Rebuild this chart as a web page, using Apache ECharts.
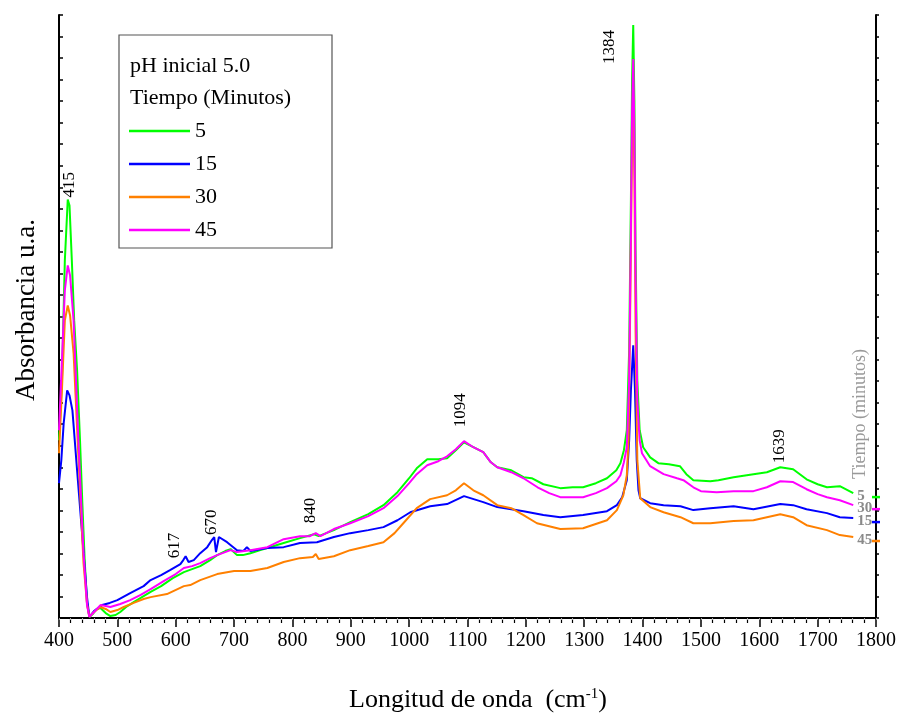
<!DOCTYPE html>
<html>
<head>
<meta charset="utf-8">
<script src="https://cdn.jsdelivr.net/npm/echarts@6/dist/echarts.min.js"></script>
<style>
  html, body { margin: 0; padding: 0; background: #fff; }
  #chart { width: 900px; height: 719px; }
</style>
</head>
<body>
<div id="chart"></div>
<script>
// FTIR spectra, initial pH 5.0, four contact times (arbitrary absorbance units)
const seriesNames = ['5', '15', '30', '45'];
const seriesColors = ['#00ff00', '#0000ff', '#ff8000', '#ff00ff'];
const endTags = ['5', '15', '45', '30'];

const green5 = [[400,8.25],[405,11.03],[410,16.6],[415,19.43],[418,19.15],[422,16.6],[426,13.82],[431,11.5],[436,8.25],[440,5.33],[444,2.69],[448,0.7],[452,0.05],[458,0.19],[465,0.42],[471,0.46],[480,0.23],[488,0.09],[497,0.14],[505,0.28],[515,0.51],[528,0.74],[540,0.93],[557,1.21],[575,1.48],[595,1.85],[614,2.13],[628,2.27],[642,2.41],[659,2.69],[671,2.92],[685,3.11],[694,3.2],[705,2.92],[715,2.92],[728,3.01],[745,3.15],[757,3.25],[785,3.48],[813,3.71],[837,3.89],[845,3.8],[871,4.08],[899,4.45],[930,4.82],[956,5.24],[980,5.84],[1000,6.49],[1013,6.95],[1031,7.37],[1050,7.37],[1065,7.42],[1080,7.79],[1094,8.16],[1110,7.93],[1127,7.7],[1140,7.23],[1151,7.0],[1175,6.86],[1196,6.54],[1210,6.49],[1230,6.21],[1259,6.03],[1280,6.07],[1298,6.07],[1320,6.26],[1339,6.49],[1355,6.86],[1362,7.19],[1368,7.79],[1373,8.72],[1377,12.42],[1380,19.38],[1382,24.94],[1384,27.54],[1386,24.01],[1388,17.06],[1391,11.03],[1395,8.72],[1401,7.93],[1413,7.46],[1427,7.19],[1445,7.14],[1464,7.05],[1475,6.68],[1487,6.4],[1516,6.35],[1530,6.4],[1556,6.54],[1590,6.68],[1613,6.77],[1636,7.0],[1658,6.91],[1681,6.44],[1700,6.21],[1716,6.07],[1738,6.12],[1761,5.8]];

const blue15 = [[400,6.26],[404,7.33],[408,9.04],[414,10.57],[418,10.34],[423,9.64],[431,6.86],[440,3.76],[448,0.97],[452,0.05],[460,0.32],[474,0.6],[487,0.7],[500,0.83],[522,1.16],[545,1.48],[557,1.76],[575,1.99],[591,2.23],[608,2.5],[613,2.69],[617,2.87],[622,2.6],[631,2.69],[642,3.01],[654,3.29],[662,3.62],[666,3.76],[669,3.06],[674,3.76],[688,3.52],[705,3.15],[716,3.11],[722,3.29],[728,3.11],[757,3.25],[785,3.29],[813,3.48],[842,3.52],[871,3.76],[899,3.94],[930,4.08],[956,4.22],[980,4.54],[1002,4.91],[1036,5.19],[1065,5.29],[1094,5.66],[1127,5.38],[1151,5.15],[1175,5.05],[1196,4.96],[1230,4.78],[1259,4.68],[1298,4.78],[1339,4.96],[1356,5.24],[1365,5.61],[1373,6.4],[1377,8.25],[1380,10.57],[1384,12.66],[1387,10.57],[1390,7.33],[1393,5.93],[1396,5.56],[1413,5.33],[1436,5.24],[1465,5.19],[1487,5.01],[1516,5.1],[1556,5.19],[1590,5.05],[1636,5.29],[1658,5.24],[1681,5.05],[1716,4.87],[1738,4.68],[1761,4.64]];

const orange30 = [[400,7.65],[405,10.57],[410,13.82],[415,14.51],[419,14.05],[425,12.29],[433,7.65],[442,2.55],[448,0.65],[452,0.05],[460,0.28],[471,0.51],[480,0.42],[488,0.28],[500,0.37],[511,0.51],[528,0.7],[545,0.88],[557,0.97],[585,1.11],[614,1.48],[625,1.53],[642,1.76],[671,2.04],[700,2.18],[728,2.18],[757,2.32],[785,2.6],[813,2.78],[835,2.83],[840,2.97],[845,2.74],[871,2.87],[899,3.15],[930,3.34],[956,3.52],[975,3.94],[990,4.4],[1013,5.1],[1036,5.52],[1065,5.7],[1080,5.93],[1094,6.26],[1110,5.93],[1127,5.7],[1151,5.24],[1175,5.1],[1196,4.78],[1219,4.4],[1259,4.13],[1298,4.17],[1339,4.54],[1356,5.01],[1367,5.7],[1373,6.63],[1376,8.25],[1379,14.74],[1382,22.16],[1384,24.25],[1386,20.31],[1388,13.35],[1391,7.33],[1396,5.56],[1413,5.15],[1436,4.91],[1465,4.68],[1487,4.4],[1516,4.4],[1556,4.5],[1590,4.54],[1613,4.68],[1636,4.82],[1658,4.68],[1681,4.31],[1716,4.08],[1738,3.85],[1761,3.76]];

const magenta45 = [[400,8.72],[405,11.96],[410,15.21],[415,16.37],[419,15.9],[425,13.82],[433,8.39],[442,3.01],[448,0.6],[452,0.05],[460,0.28],[471,0.6],[480,0.56],[488,0.51],[505,0.65],[522,0.83],[540,1.07],[557,1.34],[580,1.72],[600,2.04],[614,2.32],[628,2.41],[642,2.55],[659,2.78],[671,2.92],[694,3.15],[705,3.06],[728,3.15],[757,3.29],[785,3.66],[813,3.8],[830,3.8],[840,3.94],[848,3.8],[871,4.13],[899,4.4],[930,4.73],[956,5.1],[980,5.66],[1000,6.26],[1013,6.68],[1031,7.09],[1050,7.28],[1065,7.51],[1080,7.84],[1094,8.21],[1110,7.93],[1127,7.7],[1140,7.23],[1151,7.0],[1175,6.77],[1196,6.49],[1220,6.07],[1240,5.8],[1259,5.61],[1280,5.61],[1298,5.61],[1320,5.8],[1339,6.03],[1355,6.35],[1362,6.63],[1368,7.23],[1373,7.93],[1377,11.03],[1380,17.99],[1382,23.55],[1384,25.96],[1386,22.62],[1388,15.67],[1391,10.11],[1395,8.25],[1399,7.65],[1413,7.05],[1436,6.68],[1459,6.49],[1470,6.4],[1487,6.07],[1500,5.89],[1527,5.84],[1556,5.89],[1590,5.89],[1613,6.07],[1636,6.35],[1658,6.31],[1681,5.98],[1700,5.75],[1716,5.61],[1738,5.47],[1761,5.24]];

const seriesData = [green5, blue15, orange30, magenta45];

// band assignments marked over the spectra
const peakTags = [415, 617, 670, 840, 1094, 1384, 1639];
const peakNudge = {415: [2, -2], 617: [-11, 2], 670: [-5, -2], 840: [-5, -10], 1094: [-3, -14], 1384: [-24, 39], 1639: [-3, -4]};

const xMin = 400, xMax = 1800, xStep = 100;
const yMin = 0, yMax = 28, yStep = 1;

const serif = '"Liberation Serif", "Times New Roman", serif';
const chart = echarts.init(document.getElementById('chart'), null, { renderer: 'canvas' });

const series = seriesNames.map((name, i) => {
  const data = seriesData[i];
  const last = data[data.length - 1];
  return {
    name: name,
    type: 'line',
    data: data,
    showSymbol: false,
    symbol: 'none',
    smooth: false,
    color: seriesColors[i],
    lineStyle: { width: 2, color: seriesColors[i] },
    z: 2 + i,
    endLabel: {
      show: true,
      formatter: endTags[i],
      color: '#8a8a8a',
      fontWeight: 'bold',
      fontSize: 15,
      fontFamily: serif,
      distance: 4,
      offset: [0, 3]
    },
    markPoint: {
      silent: true,
      symbol: 'rect',
      symbolSize: [8, 2.5],
      symbolOffset: [0, 4],
      label: { show: false },
      itemStyle: { color: seriesColors[i] },
      data: [{ coord: [xMax, last[1]] }]
    }
  };
});

const option = {
  animation: false,
  backgroundColor: '#fff',
  grid: { left: 59, right: 24, top: 15, bottom: 101, containLabel: false },
  legend: {
    data: seriesNames,
    orient: 'vertical',
    left: 129,
    top: 120,
    padding: 0,
    icon: 'rect',
    itemWidth: 61,
    itemHeight: 2.5,
    itemGap: 11,
    selectedMode: false,
    textStyle: { fontFamily: serif, fontSize: 22, color: '#000' }
  },
  xAxis: [
    {
      type: 'value', min: xMin, max: xMax, interval: xStep, position: 'bottom',
      axisLine: { show: true, lineStyle: { color: '#000', width: 2 } },
      axisTick: { show: true, inside: false, length: 9, lineStyle: { color: '#000', width: 1.5 } },
      minorTick: { show: true, splitNumber: 5, length: 5, lineStyle: { color: '#000', width: 1.2 } },
      axisLabel: { fontFamily: serif, fontSize: 20, color: '#000', margin: 13, formatter: v => String(v) },
      splitLine: { show: false }
    },
    {
      type: 'value', min: xMin, max: xMax, interval: xStep, position: 'top',
      axisLine: { show: true, lineStyle: { color: '#000', width: 2 } },
      axisTick: { show: true, inside: true, length: 2, lineStyle: { color: '#999', width: 1 } },
      minorTick: { show: true, splitNumber: 5, length: 2, lineStyle: { color: '#aaa', width: 1 } },
      axisLabel: { show: false },
      splitLine: { show: false }
    }
  ],
  yAxis: [
    {
      type: 'value', min: yMin, max: yMax, interval: yStep, position: 'left',
      axisLine: { show: true, lineStyle: { color: '#000', width: 2 } },
      axisTick: { show: true, inside: true, length: 4, lineStyle: { color: '#000', width: 1.5 } },
      axisLabel: { show: false },
      splitLine: { show: false }
    },
    {
      type: 'value', min: yMin, max: yMax, interval: yStep, position: 'right',
      axisLine: { show: true, lineStyle: { color: '#000', width: 2 } },
      axisTick: { show: true, inside: false, length: 3, lineStyle: { color: '#000', width: 1.5 } },
      axisLabel: { show: false },
      splitLine: { show: false }
    }
  ],
  series: series
};

chart.setOption(option);

// peak labels sit just above the highest trace near each band
function topValueNear(x) {
  let best = -Infinity;
  seriesData.forEach(d => d.forEach(p => { if (Math.abs(p[0] - x) <= 5 && p[1] > best) best = p[1]; }));
  return best;
}

const graphics = [
  { type: 'rect', shape: { x: 119, y: 35, width: 213, height: 213 }, style: { fill: 'none', stroke: '#555', lineWidth: 1.2 }, z: 10 },
  { type: 'text', x: 130, y: 66, style: { text: 'pH inicial 5.0', font: '22px ' + serif, fill: '#000', verticalAlign: 'middle', align: 'left' }, z: 11 },
  { type: 'text', x: 130, y: 98, style: { text: 'Tiempo (Minutos)', font: '22px ' + serif, fill: '#000', verticalAlign: 'middle', align: 'left' }, z: 11 },
  { type: 'text', x: 27, y: 310, rotation: Math.PI / 2, style: { text: 'Absorbancia u.a.', font: '27px ' + serif, fill: '#000', align: 'center', verticalAlign: 'middle' } },
  { type: 'text', x: 860, y: 414, rotation: Math.PI / 2, style: { text: 'Tiempo (minutos)', font: '18px ' + serif, fill: '#999', align: 'center', verticalAlign: 'middle' } },
  {
    type: 'text', x: 478, y: 700,
    style: {
      text: '{a|Longitud de onda  (cm}{s|-1}{a|)}',
      align: 'center', verticalAlign: 'middle',
      rich: {
        a: { fontFamily: serif, fontSize: 26, fill: '#000', color: '#000', verticalAlign: 'bottom' },
        s: { fontFamily: serif, fontSize: 15, fill: '#000', color: '#000', verticalAlign: 'top' }
      }
    }
  }
];

peakTags.forEach(t => {
  const pt = chart.convertToPixel({ xAxisIndex: 0, yAxisIndex: 0 }, [t, topValueNear(t)]);
  const n = peakNudge[t] || [0, -4];
  graphics.push({
    type: 'text', x: pt[0] + n[0], y: pt[1] + n[1], rotation: Math.PI / 2, z: 12,
    style: { text: String(t), font: '17px ' + serif, fill: '#000', align: 'left', verticalAlign: 'middle' }
  });
});

chart.setOption({ graphic: graphics });
</script>
</body>
</html>
